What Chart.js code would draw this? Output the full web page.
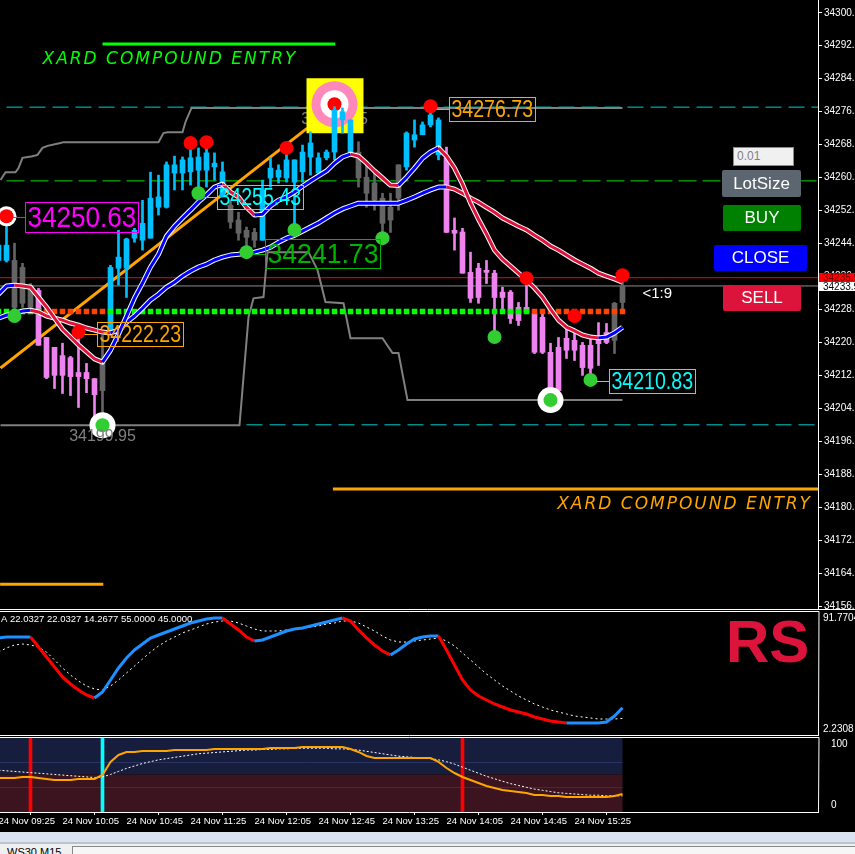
<!DOCTYPE html>
<html>
<head>
<meta charset="utf-8">
<title>WS30 M5</title>
<script src="https://cdn.jsdelivr.net/npm/chart.js@4.4.1/dist/chart.umd.min.js"></script>
<style>
  body { margin: 0; background: #000; width: 855px; height: 854px; overflow: hidden; position: relative; font-family: "Liberation Sans", Arial, sans-serif; }
  .pane { position: absolute; left: 0; width: 855px; }
  .btn { position: absolute; color: #fff; font-size: 17px; display: flex; align-items: center; justify-content: center; border-radius: 2px; }
</style>
</head>
<body>
<div class="pane" style="top:0;height:610px"><canvas id="mainChart"></canvas></div>
<div class="pane" style="top:610px;height:126px"><canvas id="rsiChart"></canvas></div>
<div class="pane" style="top:736px;height:96px"><canvas id="oscChart"></canvas></div>

<div style="position:absolute;left:733px;top:147px;width:56px;height:17px;background:#f0f0f0;border:1px solid #8a8a8a;color:#808080;font-size:12px;line-height:17px;padding-left:3px">0.01</div>
<div class="btn" style="left:722px;top:170px;width:79px;height:27px;background:#5b6670">LotSize</div>
<div class="btn" style="left:723px;top:205px;width:78px;height:26px;background:#008000">BUY</div>
<div class="btn" style="left:714px;top:245px;width:93px;height:26px;background:#0000ff">CLOSE</div>
<div class="btn" style="left:723px;top:285px;width:78px;height:26px;background:#dc143c">SELL</div>

<div style="position:absolute;left:0;top:832px;width:855px;height:10px;background:#dae4f0"></div>
<div style="position:absolute;left:0;top:842px;width:855px;height:12px;background:#f0f0f0;border-top:2px solid #b8c4d0"></div>
<div style="position:absolute;left:7px;top:846px;font-size:11px;color:#000">WS30,M15</div>
<div style="position:absolute;left:72px;top:846px;width:783px;height:10px;background:#f6f6f6;border-left:1px solid #888;border-top:1px solid #888"></div>

<script>
// ---- price data: M5 bars, first one (index -1) is half cut at the left edge ----
const firstBar = -1;
const opens = [34240.1, 34240.1, 34240.1, 34238.4, 34234.1, 34232.8, 34221.4, 34219.0, 34217.0, 34216.5,
  34212.9, 34212.9, 34211.4, 34208.5, 34222.6, 34238.2, 34238.2, 34245.5, 34245.0, 34245.5,
  34253.0, 34253.0, 34261.3, 34261.3, 34261.6, 34262.0, 34262.0, 34262.8, 34255.5, 34253.5,
  34249.9, 34247.4, 34245.0, 34245.0, 34260.1, 34260.3, 34260.1, 34259.1, 34261.6, 34265.2,
  34261.3, 34265.0, 34266.4, 34274.2, 34266.4, 34266.4, 34260.3, 34258.9, 34255.2, 34249.9,
  34255.2, 34262.8, 34269.3, 34270.6, 34273.0, 34265.7, 34265.0, 34247.4, 34247.0, 34237.2,
  34238.2, 34237.7, 34237.0, 34232.4, 34232.4, 34228.7, 34228.7, 34227.2, 34226.3, 34217.8,
  34219.0, 34221.2, 34220.7, 34219.5, 34219.5, 34221.4, 34222.6, 34220.7, 34229.9];
const highs = [34245.0, 34249.9, 34244.3, 34239.4, 34234.5, 34233.3, 34221.4, 34219.0, 34220.0, 34216.8,
  34222.4, 34215.1, 34211.4, 34221.9, 34238.9, 34247.4, 34245.5, 34247.9, 34254.7, 34261.5,
  34260.8, 34264.0, 34265.4, 34265.2, 34267.9, 34267.4, 34268.6, 34266.2, 34264.0, 34254.7,
  34251.8, 34248.2, 34247.9, 34259.6, 34265.0, 34263.3, 34266.9, 34264.5, 34268.1, 34271.3,
  34266.2, 34266.9, 34277.4, 34277.1, 34274.2, 34268.9, 34263.7, 34261.6, 34256.4, 34256.4,
  34263.3, 34271.3, 34274.2, 34273.7, 34276.7, 34274.7, 34267.6, 34250.4, 34247.9, 34242.1,
  34239.4, 34240.1, 34237.7, 34233.6, 34232.8, 34229.9, 34234.8, 34228.0, 34228.0, 34220.0,
  34221.4, 34223.6, 34222.6, 34220.2, 34221.4, 34225.0, 34224.8, 34229.9, 34236.0];
const lows = [34238.9, 34239.7, 34226.3, 34228.7, 34228.5, 34219.5, 34211.4, 34209.0, 34207.8, 34207.3,
  34204.4, 34208.0, 34201.9, 34199.95, 34222.4, 34234.1, 34231.1, 34244.5, 34242.6, 34245.5,
  34251.1, 34252.8, 34257.2, 34257.2, 34258.4, 34257.2, 34257.9, 34259.6, 34255.5, 34247.9,
  34245.0, 34243.1, 34243.3, 34245.0, 34257.9, 34258.9, 34259.1, 34246.9, 34259.1, 34260.8,
  34261.3, 34264.5, 34264.5, 34271.0, 34266.2, 34257.9, 34253.0, 34252.3, 34246.7, 34246.9,
  34252.3, 34262.0, 34267.6, 34270.6, 34272.5, 34264.5, 34246.9, 34242.6, 34237.0, 34229.9,
  34229.7, 34234.5, 34221.4, 34228.0, 34224.8, 34224.3, 34227.2, 34217.5, 34217.5, 34206.6,
  34208.5, 34216.3, 34215.8, 34212.2, 34212.6, 34214.6, 34219.9, 34217.5, 34227.2];
const closes = [34243.8, 34243.8, 34228.7, 34229.7, 34228.7, 34219.5, 34211.7, 34212.2, 34212.2, 34211.9,
  34211.9, 34211.4, 34207.5, 34215.1, 34238.4, 34240.9, 34245.3, 34247.4, 34249.1, 34255.2,
  34255.5, 34263.3, 34263.3, 34264.5, 34265.0, 34265.2, 34266.2, 34263.7, 34261.6, 34249.4,
  34246.7, 34245.7, 34246.9, 34257.2, 34262.5, 34262.0, 34264.5, 34264.5, 34266.4, 34268.6,
  34265.0, 34266.4, 34276.6, 34276.2, 34274.2, 34260.1, 34256.4, 34254.7, 34249.1, 34253.0,
  34263.3, 34271.0, 34270.6, 34273.0, 34275.4, 34274.2, 34246.9, 34246.7, 34237.0, 34230.9,
  34231.1, 34237.2, 34231.1, 34231.1, 34226.0, 34225.5, 34227.5, 34217.8, 34217.8, 34206.6,
  34208.5, 34218.3, 34218.3, 34214.1, 34213.9, 34219.9, 34220.2, 34229.7, 34233.9];
// u = up (blue), d = down (violet), n = neutral (grey)
const candleTrend = 'uu' + 'nnn' + 'dddddddd' + 'n' + 'uuuuuuuuuuuuuuu' + 'nnnn' + 'uuuuuuuuuuuu' +
  'nnnnnn' + 'uuuuu' + 'ddddddddddddddddddddd' + 'nn';

const fastMA = [34231.9, 34233.9, 34234.1, 34233.9, 34233.6, 34231.2, 34228.8, 34226.1, 34223.4, 34221.5,
  34219.6, 34217.9, 34216.2, 34215.4, 34218.3, 34222.2, 34226.6, 34231.0, 34234.6, 34238.5,
  34241.6, 34246.0, 34248.4, 34250.4, 34252.3, 34254.3, 34256.0, 34257.9, 34258.6, 34256.7,
  34255.5, 34253.0, 34251.1, 34251.3, 34253.3, 34254.7, 34255.5, 34256.7, 34258.1, 34259.4,
  34260.6, 34261.8, 34263.7, 34265.2, 34265.9, 34265.4, 34263.7, 34261.8, 34260.1, 34258.4,
  34258.3, 34260.3, 34262.5, 34264.9, 34266.4, 34267.4, 34265.4, 34262.5, 34258.6, 34254.0,
  34250.1, 34246.5, 34242.6, 34240.4, 34238.7, 34237.0, 34235.3, 34233.4, 34231.2, 34228.3,
  34225.6, 34223.9, 34223.0, 34222.0, 34221.5, 34221.3, 34221.5, 34222.5, 34223.9];
const slowMA = [34226.1, 34226.8, 34227.3, 34227.8, 34228.0, 34227.6, 34226.6, 34226.1, 34225.6, 34224.9,
  34224.4, 34223.7, 34223.2, 34222.7, 34222.5, 34223.2, 34225.1, 34226.6, 34228.5, 34230.5,
  34231.9, 34233.6, 34234.8, 34236.3, 34237.5, 34238.5, 34239.2, 34240.2, 34240.9, 34241.4,
  34241.6, 34241.9, 34242.1, 34242.6, 34243.3, 34244.5, 34245.5, 34246.2, 34247.2, 34248.2,
  34249.2, 34250.4, 34251.6, 34252.6, 34253.3, 34254.0, 34254.0, 34254.0, 34254.0, 34254.0,
  34254.0, 34254.7, 34255.5, 34256.4, 34257.2, 34257.9, 34257.9, 34257.4, 34256.4, 34255.2,
  34254.2, 34253.0, 34251.8, 34250.4, 34249.4, 34248.4, 34247.5, 34246.2, 34245.0, 34243.6,
  34242.6, 34241.4, 34240.2, 34239.2, 34238.2, 34237.0, 34236.3, 34235.6, 34234.8];

// stepped high / low channel, [bar, price] vertices
const channelHigh = [[-0.75, 34259.6], [-0.125, 34261.5], [1.125, 34261.5], [1.5, 34262.5], [2, 34265.0],
  [3.25, 34265.4], [3.875, 34265.7], [4.5, 34267.4], [5.125, 34267.9], [6.75, 34268.6], [7.125, 34268.8],
  [19, 34268.8], [19.625, 34271.0], [20.125, 34271.2], [22, 34271.2], [22.375, 34273.7], [23.125, 34277.1],
  [77, 34277.1]];
const channelLow = [[-0.75, 34200.1], [29.125, 34200.1], [30.25, 34226.3], [30.875, 34230.9], [32.125, 34231.2],
  [32.625, 34242.1], [37.75, 34242.1], [38.875, 34237.8], [39.875, 34230.0], [42.125, 34229.7], [43, 34221.2],
  [47, 34221.2], [48.25, 34217.6], [49, 34217.6], [50.125, 34206.2], [77, 34206.2]];

const levelHighDash = 34277.3;
const levelMidDash = 34259.4;
const levelLowDash = 34200.2;
const levelLowDashFrom = 30;
const askPrice = 34235.9;
const bidPrice = 34233.9;
const pivotLevel = 34227.7;
// g = green, o = orange squares along the pivot level
const pivotState = 'gggggg' + 'oooooooo' + 'g'.repeat(53) + 'oooooooooooo';
const trendLine = [[-0.75, 34214.0], [37.6, 34272.2]];
const entryTop = {from: 12, to: 41.1, price: 34292.6};
const entryBottom = {from: 40.8, price: 34184.6};
const entryStub = {from: -0.8, to: 12.1, price: 34161.5};

const redDotBars = [9, 23, 25, 35, 53, 65, 71, 77];
const redDotPrices = [34222.7, 34268.6, 34268.8, 34267.4, 34277.5, 34235.8, 34226.6, 34236.5];
const greenDotBars = [1, 24, 30, 36, 47, 61, 73];
const greenDotPrices = [34226.6, 34256.4, 34242.1, 34247.5, 34245.5, 34221.5, 34211.1];
const ringRedBars = [0];
const ringRedPrices = [34250.8];
const ringGreenBars = [12, 68];
const ringGreenPrices = [34200.1, 34206.2];
const targetBar = 41;
const targetPrice = 34278.0;

const swingLabelBars = [0, 9, 24, 30, 53, 73];
const swingLabelPrices = [34250.63, 34222.23, 34255.43, 34241.73, 34276.73, 34210.83];
const extremeBars = [12, 41];
const extremePrices = [34199.95, 34277.95];

const priceTicks = [34300.2, 34292.2, 34284.2, 34276.2, 34268.2, 34260.2, 34252.2, 34244.2, 34236.2,
  34228.2, 34220.2, 34212.2, 34204.2, 34196.2, 34188.2, 34180.2, 34172.2, 34164.2, 34156.2];

// ---- lower panes ----
const rsiMain = [72.85, 73.57, 73.57, 73.57, 73.57, 66.29, 59.01, 51.73, 44.45, 39.36,
  34.99, 31.35, 29.17, 33.53, 42.27, 51.01, 58.29, 64.11, 68.48, 72.85,
  75.03, 77.21, 79.40, 81.58, 83.77, 85.22, 86.68, 87.41, 87.41, 83.04,
  78.67, 73.57, 70.66, 71.39, 73.57, 75.76, 77.94, 79.40, 80.13, 81.58,
  83.04, 84.49, 85.95, 87.41, 85.22, 78.67, 72.85, 67.75, 63.38, 60.47,
  64.11, 68.48, 72.12, 73.57, 74.30, 74.30, 64.11, 53.19, 42.27, 34.99,
  30.62, 27.71, 24.80, 22.61, 20.43, 18.97, 17.52, 15.33, 13.88, 12.42,
  11.69, 10.97, 10.97, 10.97, 10.97, 10.97, 11.69, 16.06, 22.03];
const rsiSignal = [62.65, 65.57, 67.75, 68.48, 67.75, 66.29, 62.65, 56.83, 51.01, 45.91,
  41.54, 37.90, 35.72, 34.99, 37.90, 42.27, 47.37, 52.46, 57.56, 62.65,
  67.02, 70.66, 73.57, 76.49, 78.67, 80.85, 83.04, 84.49, 85.22, 85.22,
  83.77, 81.58, 79.40, 77.94, 77.94, 77.94, 78.67, 79.40, 80.13, 80.85,
  81.58, 83.04, 83.77, 85.22, 85.22, 83.77, 80.85, 77.94, 74.30, 71.39,
  69.93, 69.93, 70.66, 71.39, 72.12, 72.85, 70.66, 67.02, 61.93, 56.83,
  51.73, 46.64, 42.27, 37.90, 34.26, 30.62, 27.71, 24.80, 22.61, 20.43,
  18.97, 17.52, 16.06, 15.33, 14.61, 13.88, 13.88, 13.88, 14.27];
const rsiHeader = 'A 22.0327 22.0327 14.2677 55.0000 45.0000';
const rsiMax = 91.7704;
const rsiMin = 2.2308;

const oscMain = [44.3, 44.3, 44.3, 45.9, 45.9, 44.3, 42.6, 41.0, 41.0, 41.0, 42.6, 42.6, 42.6,
  49.2, 70.5, 82.0, 86.9, 86.9, 88.5, 88.5, 88.5, 88.5, 90.1, 90.1, 90.1, 90.1, 90.1,
  91.8, 91.8, 91.8, 91.8, 91.8, 91.8, 91.8, 93.4, 93.4, 93.4, 93.4, 95.1, 95.1, 95.1,
  95.1, 95.1, 95.1, 91.8, 86.9, 80.3, 77.0, 77.0, 77.0, 77.0, 77.0, 77.0, 77.0, 77.0,
  70.5, 60.6, 52.4, 45.9, 41.0, 36.1, 31.1, 27.9, 24.6, 22.9, 21.3, 19.7, 16.4, 16.4,
  14.8, 14.8, 13.1, 13.1, 13.1, 13.1, 13.1, 13.1, 14.8, 18.0];
const oscSignal = [57, 56, 55, 54, 53, 52, 51, 50, 49, 48, 47, 46, 45,
  46, 50, 55, 60, 64, 68, 71, 74, 76, 78, 80, 82, 84,
  85, 86, 87, 88, 89, 90, 90, 91, 91, 92, 92, 93, 93, 93, 93, 93, 92, 92,
  91, 90, 88, 86, 84, 82, 80, 79, 78, 77, 76, 74, 71, 67, 62, 57, 52, 47, 43, 39, 35, 32,
  29, 26, 24, 22, 20, 19, 18, 17, 16, 16, 15, 15, 15];
const signalBars = [3, 12, 57];
const signalKinds = ['sell', 'buy', 'sell'];

const timeLabelBars = [-1, 7, 15, 23, 31, 39, 47, 55, 63, 71];
const timeLabels = ['24 Nov 09:25', '24 Nov 10:05', '24 Nov 10:45', '24 Nov 11:25', '24 Nov 12:05',
  '24 Nov 12:45', '24 Nov 13:25', '24 Nov 14:05', '24 Nov 14:45', '24 Nov 15:25'];

// ---- setup ----
Chart.defaults.font.family = '"Liberation Sans", Arial, sans-serif';
Chart.defaults.color = '#ffffff';
Chart.defaults.animation = false;
Chart.defaults.events = [];
Chart.defaults.plugins.legend.display = false;
Chart.defaults.plugins.tooltip.enabled = false;

const X_MIN = -0.8125, X_MAX = 101.4375;
const barX = opens.map((_, i) => firstBar + i);
const pts = arr => arr.map((v, i) => ({x: barX[i], y: v}));
const dots = (bars, prices) => bars.map((b, i) => ({x: b, y: prices[i]}));
const slope = (up, down) => c => (c.p1.parsed.y >= c.p0.parsed.y ? up : down);
const hline = (from, to, y) => [{x: from, y}, {x: to, y}];

const trendColors = {u: '#00bfff', d: '#ee82ee', n: '#646464'};
const candleColors = [...candleTrend].map(t => trendColors[t]);
const pivotColors = [...pivotState].map(s => (s === 'g' ? '#00ff00' : '#ff4500'));

function fixWidth(scale) {
  scale.width = 37;
  scale.paddingTop = 0;
  scale.paddingBottom = 0;
}
function hiddenX() {
  return { type: 'linear', min: X_MIN, max: X_MAX, offset: false, display: false };
}

// Draw price labels, entry texts, tags and frame on the main pane
const mainDecor = {
  id: 'mainDecor',
  beforeDatasetDraw(chart, args) {
    if (chart.data.datasets[args.index].label !== 'target outer') return;
    const {ctx} = chart, xs = chart.scales.x, ys = chart.scales.y;
    const cx = xs.getPixelForValue(targetBar), cy = ys.getPixelForValue(targetPrice);
    ctx.save();
    ctx.font = '16px "Liberation Sans"';
    ctx.fillStyle = '#808080';
    ctx.textAlign = 'center';
    ctx.textBaseline = 'middle';
    ctx.fillText(extremePrices[1].toFixed(2), xs.getPixelForValue(extremeBars[1]), ys.getPixelForValue(extremePrices[1]) + 15);
    ctx.fillStyle = '#ffff00';
    ctx.fillRect(cx - 28, cy - 26, 57, 55);
    ctx.restore();
  },
  afterDatasetsDraw(chart) {
    const {ctx} = chart, xs = chart.scales.x, ys = chart.scales.y;
    const styles = [
      {color: '#ff00ff', size: 29, sx: 0.9},
      {color: '#ffa500', size: 23, sx: 0.85},
      {color: '#00ffff', size: 23, sx: 0.85},
      {color: '#00b400', size: 28, sx: 0.95},
      {color: '#ffa500', size: 23, sx: 0.85},
      {color: '#00ffff', size: 23, sx: 0.85}
    ];
    ctx.save();
    swingLabelBars.forEach((b, i) => {
      const st = styles[i];
      const ax = xs.getPixelForValue(b), ay = ys.getPixelForValue(swingLabelPrices[i]);
      const text = swingLabelPrices[i].toFixed(2);
      ctx.font = st.size + 'px "Liberation Sans"';
      const tw = ctx.measureText(text).width * st.sx;
      const bx = Math.round(ax + 18) + 0.5, bh = st.size + 1, by = Math.round(ay - bh / 2) + 0.5;
      ctx.strokeStyle = st.color;
      ctx.lineWidth = 1;
      ctx.beginPath();
      ctx.moveTo(ax + 6, Math.round(ay) + 0.5);
      ctx.lineTo(bx, Math.round(ay) + 0.5);
      ctx.stroke();
      ctx.strokeRect(bx, by, Math.round(tw + 4), bh);
      ctx.fillStyle = st.color;
      ctx.textBaseline = 'middle';
      ctx.textAlign = 'left';
      ctx.save();
      ctx.translate(bx + 2, by + bh / 2 + 1);
      ctx.scale(st.sx, 1);
      ctx.fillText(text, 0, 0);
      ctx.restore();
    });
    // lowest low text
    ctx.font = '16px "Liberation Sans"';
    ctx.fillStyle = '#808080';
    ctx.textAlign = 'center';
    ctx.textBaseline = 'middle';
    ctx.fillText(extremePrices[0].toFixed(2), xs.getPixelForValue(extremeBars[0]), ys.getPixelForValue(extremePrices[0]) + 11);
    // risk reward text next to the last bar
    ctx.font = '15px "Liberation Sans"';
    ctx.fillStyle = '#ffffff';
    ctx.textAlign = 'left';
    ctx.fillText('<1:9', xs.getPixelForValue(barX[barX.length - 1]) + 20, ys.getPixelForValue(bidPrice) + 8);
    // entry captions
    ctx.font = 'oblique 17px "DejaVu Sans"';
    ctx.letterSpacing = '2px';
    ctx.textBaseline = 'alphabetic';
    ctx.fillStyle = '#00ff00';
    ctx.textAlign = 'left';
    ctx.fillText('XARD COMPOUND ENTRY', xs.getPixelForValue(entryTop.from) - 60, ys.getPixelForValue(entryTop.price) + 20);
    ctx.fillStyle = '#ffa500';
    ctx.textAlign = 'right';
    ctx.fillText('XARD COMPOUND ENTRY', chart.chartArea.right - 6, ys.getPixelForValue(entryBottom.price) + 20);
    ctx.restore();
  },
  afterDraw(chart) {
    const {ctx} = chart, ys = chart.scales.y, area = chart.chartArea;
    ctx.save();
    ctx.font = '10px "Liberation Sans"';
    ctx.textBaseline = 'middle';
    ctx.textAlign = 'left';
    const ay = Math.round(ys.getPixelForValue(askPrice));
    ctx.fillStyle = '#ff0000';
    ctx.fillRect(area.right + 1, ay - 5, 40, 11);
    ctx.fillStyle = '#700000';
    ctx.fillText(askPrice.toFixed(1), area.right + 5, ay);
    const by = Math.round(ys.getPixelForValue(bidPrice));
    ctx.fillStyle = '#ffffff';
    ctx.fillRect(area.right + 1, by - 4, 40, 9);
    ctx.fillStyle = '#000000';
    ctx.fillText(bidPrice.toFixed(1), area.right + 5, by + 1);
    // pane frame
    ctx.strokeStyle = '#ffffff';
    ctx.lineWidth = 1;
    ctx.beginPath();
    ctx.moveTo(area.right + 0.5, 0);
    ctx.lineTo(area.right + 0.5, area.bottom);
    ctx.moveTo(0, area.bottom + 0.5);
    ctx.lineTo(chart.width, area.bottom + 0.5);
    ctx.stroke();
    ctx.restore();
  }
};

new Chart(document.getElementById('mainChart'), {
  type: 'bar',
  data: {
    datasets: [
      {type: 'line', label: 'high dash', data: hline(0, X_MAX, levelHighDash), borderColor: '#00ced1', borderWidth: 1, borderDash: [16, 7], pointRadius: 0, order: 110},
      {type: 'line', label: 'mid dash', data: hline(0, X_MAX, levelMidDash), borderColor: '#00e000', borderWidth: 1, borderDash: [18, 6], pointRadius: 0, order: 110},
      {type: 'line', label: 'low dash', data: hline(levelLowDashFrom, X_MAX, levelLowDash), borderColor: '#00ced1', borderWidth: 1, borderDash: [16, 7], pointRadius: 0, order: 110},
      {type: 'line', label: 'ask', data: hline(X_MIN, X_MAX, askPrice), borderColor: '#ff0000', borderWidth: 1, pointRadius: 0, order: 108},
      {type: 'line', label: 'bid', data: hline(X_MIN, X_MAX, bidPrice), borderColor: '#8c8c8c', borderWidth: 1, pointRadius: 0, order: 108},
      {type: 'line', label: 'entry top', data: hline(entryTop.from, entryTop.to, entryTop.price), borderColor: '#00ff00', borderWidth: 3, pointRadius: 0, order: 107},
      {type: 'line', label: 'entry bottom', data: hline(entryBottom.from, X_MAX, entryBottom.price), borderColor: '#ffa500', borderWidth: 3, pointRadius: 0, order: 107},
      {type: 'line', label: 'entry stub', data: hline(entryStub.from, entryStub.to, entryStub.price), borderColor: '#ffa500', borderWidth: 3, pointRadius: 0, order: 107},
      {type: 'line', label: 'channel high', data: channelHigh.map(([x, y]) => ({x, y})), borderColor: '#808080', borderWidth: 2, pointRadius: 0, order: 100},
      {type: 'line', label: 'channel low', data: channelLow.map(([x, y]) => ({x, y})), borderColor: '#808080', borderWidth: 2, pointRadius: 0, order: 100},
      {type: 'line', label: 'trend', data: trendLine.map(([x, y]) => ({x, y})), borderColor: '#ffa500', borderWidth: 3, pointRadius: 0, order: 95},
      {type: 'line', label: 'target outer', data: [{x: targetBar, y: targetPrice}], showLine: false, pointRadius: 23, pointBackgroundColor: '#ff88bb', pointBorderWidth: 0, order: 92},
      {type: 'line', label: 'target inner', data: [{x: targetBar, y: targetPrice}], showLine: false, pointRadius: 14, pointBackgroundColor: '#ffffff', pointBorderWidth: 0, order: 91},
      {type: 'line', label: 'target dot', data: [{x: targetBar, y: targetPrice}], showLine: false, pointRadius: 7, pointBackgroundColor: '#ff0000', pointBorderWidth: 0, order: 90},
      {label: 'wicks', data: barX.map((x, i) => ({x, y: [lows[i], highs[i]]})), backgroundColor: candleColors, barThickness: 2, grouped: false, order: 80},
      {label: 'bodies', data: barX.map((x, i) => ({x, y: [opens[i], closes[i]]})), backgroundColor: candleColors, barThickness: 5, minBarLength: 1, grouped: false, order: 79},
      {type: 'line', label: 'pivot', data: pts(barX.map(() => pivotLevel)), showLine: false, pointStyle: 'rect', pointRadius: 3.9, pointBackgroundColor: pivotColors, pointBorderWidth: 0, order: 70},
      {type: 'line', label: 'slow outline', data: pts(slowMA), borderColor: '#ffffff', borderWidth: 5, pointRadius: 0, borderJoinStyle: 'round', order: 61},
      {type: 'line', label: 'slow', data: pts(slowMA), borderColor: '#0000ff', borderWidth: 3, pointRadius: 0, borderJoinStyle: 'round', segment: {borderColor: slope('#0000ff', '#dc143c')}, order: 60},
      {type: 'line', label: 'fast outline', data: pts(fastMA), borderColor: '#ffffff', borderWidth: 5, pointRadius: 0, borderJoinStyle: 'round', order: 59},
      {type: 'line', label: 'fast', data: pts(fastMA), borderColor: '#0000ff', borderWidth: 3, pointRadius: 0, borderJoinStyle: 'round', segment: {borderColor: slope('#0000ff', '#dc143c')}, order: 58},
      {type: 'line', label: 'ring red', data: dots(ringRedBars, ringRedPrices), showLine: false, pointRadius: 10, pointBackgroundColor: '#ffffff', pointBorderWidth: 0, order: 12},
      {type: 'line', label: 'ring green', data: dots(ringGreenBars, ringGreenPrices), showLine: false, pointRadius: 13, pointBackgroundColor: '#ffffff', pointBorderWidth: 0, order: 12},
      {type: 'line', label: 'swing highs', data: dots(redDotBars.concat(ringRedBars), redDotPrices.concat(ringRedPrices)), showLine: false, pointRadius: 7, pointBackgroundColor: '#ff0000', pointBorderWidth: 0, order: 5},
      {type: 'line', label: 'swing lows', data: dots(greenDotBars.concat(ringGreenBars), greenDotPrices.concat(ringGreenPrices)), showLine: false, pointRadius: 7, pointBackgroundColor: '#32cd32', pointBorderWidth: 0, order: 5}
    ]
  },
  options: {
    responsive: true,
    maintainAspectRatio: false,
    devicePixelRatio: 1,
    layout: {autoPadding: false, padding: {top: 0, bottom: 1, left: 0, right: 0}},
    scales: {
      x: hiddenX(),
      y: {
        position: 'right', min: 34155.5, max: 34303.3,
        afterFit: fixWidth,
        afterBuildTicks: s => { s.ticks = priceTicks.map(v => ({value: v})); },
        grid: {display: true, drawOnChartArea: false, drawTicks: true, tickLength: 4, color: '#ffffff'},
        border: {display: false},
        ticks: {color: '#ffffff', font: {size: 10}, padding: 2, autoSkip: false, callback: v => v.toFixed(1)}
      }
    }
  },
  plugins: [mainDecor]
});

// RSI pane
const rsiDecor = {
  id: 'rsiDecor',
  afterDraw(chart) {
    const {ctx} = chart, area = chart.chartArea;
    ctx.save();
    ctx.strokeStyle = '#ffffff';
    ctx.lineWidth = 1;
    ctx.beginPath();
    ctx.moveTo(0, area.top - 0.5);
    ctx.lineTo(area.right + 1, area.top - 0.5);
    ctx.lineTo(area.right + 0.5, area.bottom);
    ctx.moveTo(0, area.bottom + 0.5);
    ctx.lineTo(area.right + 1, area.bottom + 0.5);
    ctx.stroke();
    ctx.fillStyle = '#ffffff';
    ctx.font = '10px "Liberation Sans"';
    ctx.textAlign = 'left';
    ctx.textBaseline = 'top';
    ctx.fillText(rsiMax.toFixed(4), area.right + 5, area.top + 1);
    ctx.textBaseline = 'bottom';
    ctx.fillText(rsiMin.toFixed(4), area.right + 5, area.bottom - 1);
    ctx.font = '9.5px "Liberation Sans"';
    ctx.textBaseline = 'middle';
    ctx.fillText(rsiHeader, 1, area.top + 7);
    ctx.font = 'bold 60px "Liberation Sans"';
    ctx.fillStyle = '#dc143c';
    ctx.textBaseline = 'alphabetic';
    ctx.fillText('RS', area.right - 92, area.top + 50);
    ctx.restore();
  }
};

new Chart(document.getElementById('rsiChart'), {
  type: 'line',
  data: {
    datasets: [
      {label: 'signal', data: pts(rsiSignal), borderColor: '#ffffff', borderWidth: 1, borderDash: [2, 3], pointRadius: 0, order: 2},
      {label: 'rsi', data: pts(rsiMain), borderColor: '#1e90ff', borderWidth: 3, pointRadius: 0, segment: {borderColor: slope('#1e90ff', '#ff0000')}, order: 1}
    ]
  },
  options: {
    responsive: true,
    maintainAspectRatio: false,
    devicePixelRatio: 1,
    layout: {autoPadding: false, padding: {top: 2, bottom: 1, left: 0, right: 0}},
    scales: {
      x: hiddenX(),
      y: {position: 'right', min: rsiMin, max: rsiMax, afterFit: fixWidth, grid: {display: false}, border: {display: false}, ticks: {display: false}}
    }
  },
  plugins: [rsiDecor]
});

// Oscillator pane with time axis
const OSC_MIN = -11.5, OSC_MAX = 109.8;
const oscDecor = {
  id: 'oscDecor',
  beforeDatasetsDraw(chart) {
    const {ctx} = chart, xs = chart.scales.x, ys = chart.scales.y;
    const x0 = xs.getPixelForValue(X_MIN), x1 = xs.getPixelForValue(barX[barX.length - 1]);
    ctx.save();
    ctx.fillStyle = '#161d3d';
    ctx.fillRect(x0, ys.getPixelForValue(OSC_MAX), x1 - x0, ys.getPixelForValue(50) - ys.getPixelForValue(OSC_MAX));
    ctx.fillStyle = '#3c1420';
    ctx.fillRect(x0, ys.getPixelForValue(50), x1 - x0, ys.getPixelForValue(OSC_MIN) - ys.getPixelForValue(50));
    ctx.strokeStyle = '#2a3460';
    ctx.beginPath();
    ctx.moveTo(x0, Math.round(ys.getPixelForValue(70)) + 0.5);
    ctx.lineTo(x1, Math.round(ys.getPixelForValue(70)) + 0.5);
    ctx.stroke();
    ctx.strokeStyle = '#5a2030';
    ctx.beginPath();
    ctx.moveTo(x0, Math.round(ys.getPixelForValue(30)) + 0.5);
    ctx.lineTo(x1, Math.round(ys.getPixelForValue(30)) + 0.5);
    ctx.stroke();
    ctx.restore();
  },
  afterDraw(chart) {
    const {ctx} = chart, area = chart.chartArea;
    ctx.save();
    ctx.strokeStyle = '#ffffff';
    ctx.lineWidth = 1;
    ctx.beginPath();
    ctx.moveTo(0, area.top - 0.5);
    ctx.lineTo(area.right + 1, area.top - 0.5);
    ctx.lineTo(area.right + 0.5, area.bottom);
    ctx.stroke();
    ctx.restore();
  }
};

new Chart(document.getElementById('oscChart'), {
  type: 'bar',
  data: {
    datasets: [
      {label: 'signals', data: signalBars.map(x => ({x, y: [OSC_MIN, OSC_MAX]})), backgroundColor: signalKinds.map(k => (k === 'buy' ? '#00ffff' : '#ff0000')), barThickness: 3, grouped: false, order: 3},
      {type: 'line', label: 'osc signal', data: pts(oscSignal), borderColor: '#ffffff', borderWidth: 1, borderDash: [2, 2], pointRadius: 0, order: 2},
      {type: 'line', label: 'osc', data: pts(oscMain), borderColor: '#ffa500', borderWidth: 2, pointRadius: 0, order: 1}
    ]
  },
  options: {
    responsive: true,
    maintainAspectRatio: false,
    devicePixelRatio: 1,
    layout: {autoPadding: false, padding: {top: 2, bottom: 0, left: 0, right: 0}},
    scales: {
      x: {
        type: 'linear', min: X_MIN, max: X_MAX, offset: false,
        afterFit: s => { s.height = 20; s.paddingLeft = 0; s.paddingRight = 0; },
        afterBuildTicks: s => { s.ticks = timeLabelBars.map(v => ({value: v})); },
        grid: {display: true, drawOnChartArea: false, drawTicks: true, tickLength: 3, color: '#ffffff'},
        border: {display: true, color: '#ffffff'},
        ticks: {color: '#ffffff', font: {size: 9.5}, padding: 1, autoSkip: false, maxRotation: 0, align: 'start',
          callback: (v, i) => timeLabels[i]}
      },
      y: {
        position: 'right', min: OSC_MIN, max: OSC_MAX,
        afterFit: fixWidth,
        afterBuildTicks: s => { s.ticks = [{value: 0}, {value: 100}]; },
        grid: {display: false}, border: {display: false},
        ticks: {color: '#ffffff', font: {size: 10}, padding: 5, autoSkip: false}
      }
    }
  },
  plugins: [oscDecor]
});
</script>
</body>
</html>
